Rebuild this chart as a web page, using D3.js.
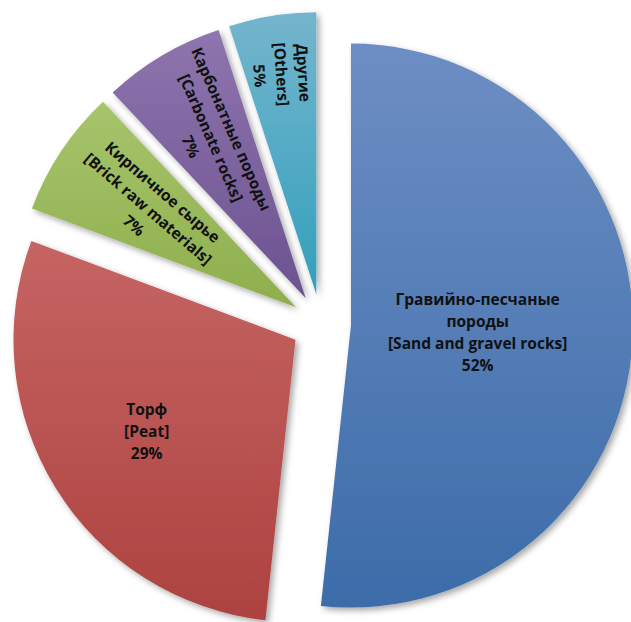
<!DOCTYPE html>
<html>
<head>
<meta charset="utf-8">
<script src="https://cdn.jsdelivr.net/npm/d3@7"></script>
<style>
  html, body { margin: 0; padding: 0; background: #fff; }
  svg { display: block; }
  .lbl { font-family: "Open Sans", Lato, sans-serif; font-weight: bold; font-size: 15.5px; fill: #111; }
</style>
</head>
<body>
<div id="chart"></div>
<script>
// chart data
const categories = [
    ["Гравийно-песчаные", "породы", "[Sand and gravel rocks]"],
    ["Торф", "[Peat]"],
    ["Кирпичное сырье", "[Brick raw materials]"],
    ["Карбонатные породы", "[Carbonate rocks]"],
    ["Другие", "[Others]"]
];
const values = [51.7, 29.0, 7.3, 7.0, 5.0];
const colorsTop = ["#6d8ec4", "#c56563", "#a6c56c", "#8e75ae", "#74b5cd"];
const colorsBottom = ["#3c6ca9", "#ad4240", "#8fae4c", "#6c5290", "#33a0bc"];

const width = 631;
const height = 622;
const cx = 321, cy = 324;
const radius = 282;
const explode = 30;

const svg = d3.select("#chart")
    .append("svg")
    .attr("width", width)
    .attr("height", height);

const defs = svg.append("defs");

// soft shadow like the office chart
const shadow = defs.append("filter")
    .attr("id", "shadow")
    .attr("x", "-10%").attr("y", "-10%")
    .attr("width", "120%").attr("height", "120%");
shadow.append("feDropShadow")
    .attr("dx", 3).attr("dy", 3)
    .attr("stdDeviation", 3)
    .attr("flood-color", "#000")
    .attr("flood-opacity", 0.35);

values.forEach((v, i) => {
    const g = defs.append("linearGradient")
        .attr("id", "grad" + i)
        .attr("x1", 0).attr("y1", 0)
        .attr("x2", 0).attr("y2", 1);
    g.append("stop").attr("offset", "0%").attr("stop-color", colorsTop[i]);
    g.append("stop").attr("offset", "100%").attr("stop-color", colorsBottom[i]);
});

const pie = d3.pie().sort(null).value(d => d);
const arcs = pie(values);
const total = d3.sum(values);

const arc = d3.arc().innerRadius(0).outerRadius(radius);

const chart = svg.append("g")
    .attr("transform", `translate(${cx},${cy})`);

// offset of each slice along its middle angle
const offset = d => {
    const a = (d.startAngle + d.endAngle) / 2;
    return [Math.sin(a) * explode, -Math.cos(a) * explode];
};

const slices = chart.selectAll("g.slice")
    .data(arcs)
    .enter().append("g")
    .attr("class", "slice")
    .attr("transform", d => `translate(${offset(d)})`);

slices.append("path")
    .attr("d", arc)
    .attr("fill", (d, i) => `url(#grad${i})`)
    .attr("filter", "url(#shadow)");

// label placement: fraction of radius, extra rotation (deg), rotate or not
const labelPos = [
    {r: 0.45, rot: null},
    {r: 0.62, rot: null},
    {r: 0.63, rot: 7},
    {r: 0.66, rot: 7},
    {r: 0.79, rot: 5}
];
const lineH = 22;

const labels = slices.append("text")
    .attr("class", "lbl")
    .attr("text-anchor", "middle")
    .attr("transform", (d, i) => {
        const a = (d.startAngle + d.endAngle) / 2;
        const rr = radius * labelPos[i].r;
        const x = Math.sin(a) * rr, y = -Math.cos(a) * rr;
        let t = `translate(${x},${y})`;
        if (labelPos[i].rot !== null) {
            t += ` rotate(${a * 180 / Math.PI - 270 + labelPos[i].rot})`;
        }
        return t;
    });

labels.each(function(d, i) {
    const lines = categories[i].concat([Math.round(d.value / total * 100) + "%"]);
    const start = -(lines.length - 1) / 2 * lineH;
    d3.select(this).selectAll("tspan")
        .data(lines)
        .enter().append("tspan")
        .attr("x", 0)
        .attr("y", (l, j) => start + j * lineH)
        .attr("dy", "0.35em")
        .text(l => l);
});
</script>
</body>
</html>
